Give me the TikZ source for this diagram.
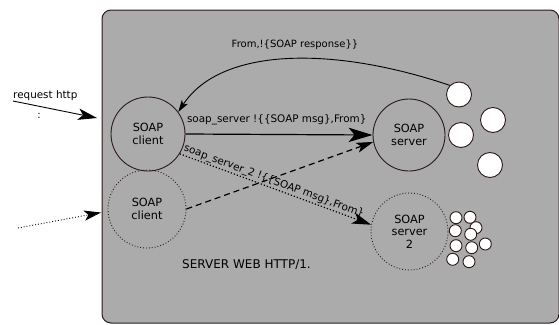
\documentclass[tikz,border=0pt]{standalone}
\usepackage{fontspec}
\setmainfont{DejaVu Sans}
\usetikzlibrary{arrows.meta}
\definecolor{boxgray}{HTML}{ABABAB}
\definecolor{edge}{HTML}{2B1A17}
\tikzset{
  circ/.style={circle, draw=edge, line width=0.9pt, minimum size=#1, inner sep=0pt, align=center, font=\fontsize{11.3}{12.5}\selectfont},
  dcirc/.style={circ=#1, dotted},
  dot/.style={circle, draw=edge, fill=white, line width=0.9pt, inner sep=0pt, minimum width=#1},
  tip/.style={-{Stealth[length=#1, width=0.6*#1, inset=0.25*#1]}},
  tip/.default=18pt,
  lbl/.style={font=\fontsize{10}{12}\selectfont, inner sep=0pt},
  lblb/.style={font=\fontsize{10.4}{12}\selectfont, inner sep=0pt},
}
\begin{document}
\begin{tikzpicture}[x=1pt,y=-1pt]
\useasboundingbox (0,0) rectangle (559,324);
\draw[edge, fill=boxgray, line width=1pt, rounded corners=9pt] (102,10) rectangle (559,323);
% circles
\node[circ=74pt] (c1) at (148,134) {SOAP\\client};
\node[dcirc=78pt] (c2) at (147,209) {SOAP\\client};
\node[circ=72pt] (srv) at (409,135) {SOAP\\server};
\node[dcirc=77pt] (srv2) at (409.5,231.5) {SOAP\\server\\2};
% large white dots
\node[dot=25pt, minimum height=23pt] (s1) at (459,94.5) {};
\node[dot=25pt, minimum height=23pt] (s2) at (493,120) {};
\node[dot=25pt, minimum height=23pt] (s3) at (461,135) {};
\node[dot=25pt, minimum height=23pt] (s4) at (490,165) {};
% small white dots
\foreach \i/\p in {1/{(456,217.7)},2/{(470,217.3)},3/{(476,227.7)},4/{(455.3,230.7)},5/{(470.7,234.3)},6/{(485.3,244)},7/{(456,245.7)},8/{(471.7,247.7)},9/{(452.7,259.3)},10/{(469,261.7)}}
  \node[dot=12pt] (t\i) at \p {};
% outside arrows
\node[lblb, anchor=south west] (req) at (13,101) {request http};
\node[lbl] (colon) at (39,116) {:};
\coordinate (r0) at (13,101);
\coordinate (r1) at (97,118);
\draw[tip=19pt, line width=0.9pt] (r0) -- (r1);
\coordinate (d0) at (18,228);
\coordinate (d1) at (101,212.5);
\draw[tip=17pt, dotted, line width=0.9pt] (d0) -- (d1);
% connectors
\draw[tip=24pt, line width=1.2pt] (c1.east) -- node[lblb, pos=0, anchor=base west, xshift=1pt, yshift=12pt] {soap\_server !\{\{SOAP msg\},From\}} (srv.west);
\draw[tip=17pt, dash pattern=on 6pt off 4pt, line width=1.2pt] (c2.east) -- (srv.191);
\draw[tip=19pt, dotted, line width=1.2pt] (c1.328) -- node[lblb, sloped, above=1pt, pos=0.48] {soap\_server\_2 !\{\{SOAP msg\},From\}} (srv2.170);
\draw[tip=12pt, line width=0.9pt] (s1.135) .. controls (330,45) and (220,48) .. (c1.36);
\node[lbl] (resp) at (295,45) {From,!\{SOAP response\}\}};
\node[lbl, font=\fontsize{12}{14}\selectfont] (web) at (246.5,265) {SERVER WEB HTTP/1.};
\end{tikzpicture}
\end{document}
